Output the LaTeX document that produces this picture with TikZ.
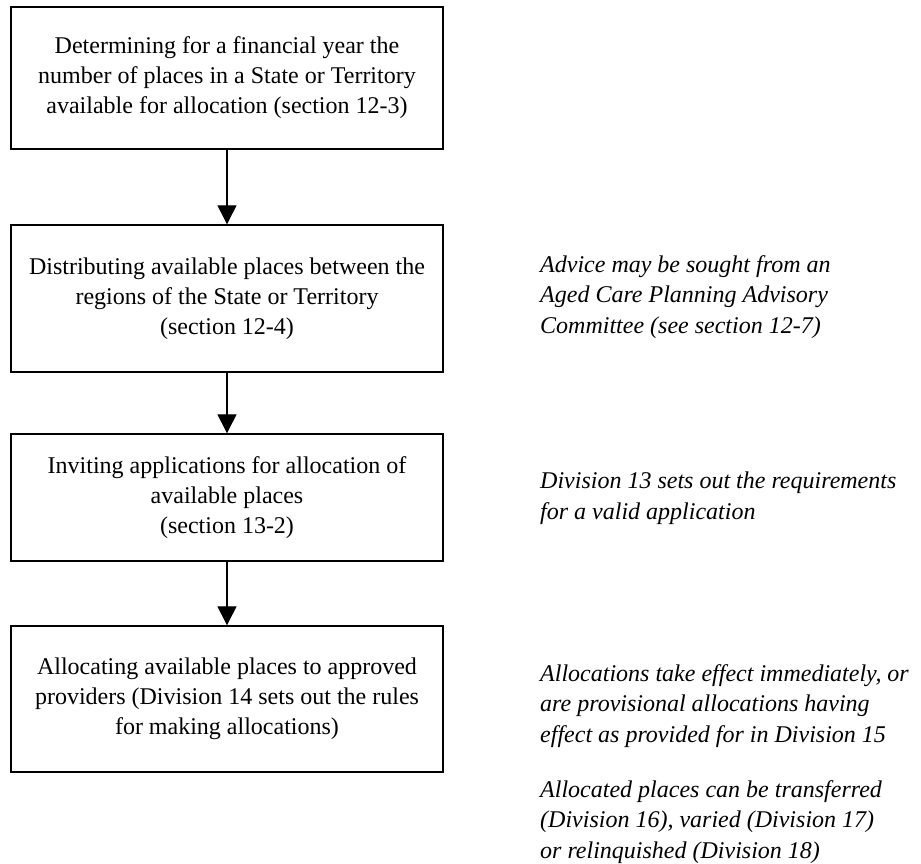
\documentclass[tikz,border=0pt]{standalone}
\usepackage{fontspec}
\setmainfont{Liberation Serif}
\usetikzlibrary{arrows.meta}
\begin{document}
\begin{tikzpicture}[x=1pt,y=-1pt,
  stepbox/.style={draw,line width=1.4pt,minimum width=432pt,align=center,inner sep=0pt,
    font=\fontsize{24}{30}\selectfont},
  note/.style={anchor=west,align=left,inner sep=0pt,font=\fontsize{24}{30.5}\selectfont\itshape},
  flow/.style={line width=1.3pt,-{Triangle[width=19pt,length=19pt]}}]
\useasboundingbox (0,0) rectangle (921,864);
\node[stepbox,minimum height=142pt] (b1) at (227,78) {Determining for a financial year the\\number of places in a State or Territory\\available for allocation (section 12-3)};
\node[stepbox,minimum height=147pt] (b2) at (227,298.5) {Distributing available places between the\\regions of the State or Territory\\(section 12-4)};
\node[stepbox,minimum height=127pt] (b3) at (227,497.5) {Inviting applications for allocation of\\available places\\(section 13-2)};
\node[stepbox,minimum height=146pt] (b4) at (227,699) {Allocating available places to approved\\providers (Division 14 sets out the rules\\for making allocations)};
\draw[flow] (b1) -- (b2);
\draw[flow] (b2) -- (b3);
\draw[flow] (b3) -- (b4);
\node[note] (n1) at (540,297) {Advice may be sought from an\\Aged Care Planning Advisory\\Committee (see section 12-7)};
\node[note] (n2) at (540,498) {Division 13 sets out the requirements\\for a valid application};
\node[note] (n3) at (540,706) {Allocations take effect immediately, or\\are provisional allocations having\\effect as provided for in Division 15};
\node[note] (n4) at (540,822) {Allocated places can be transferred\\(Division 16), varied (Division 17)\\or relinquished (Division 18)};
\end{tikzpicture}
\end{document}
